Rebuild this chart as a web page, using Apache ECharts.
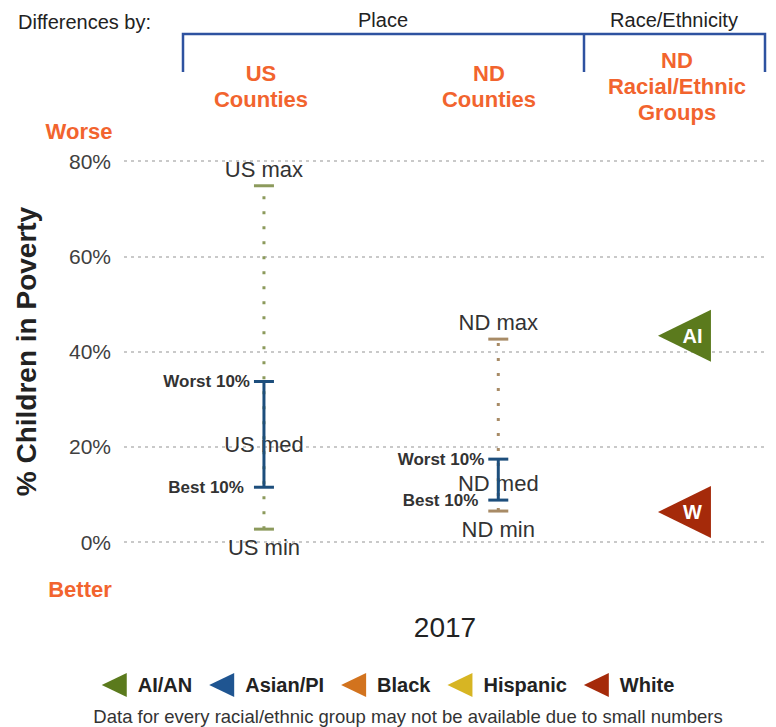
<!DOCTYPE html>
<html>
<head>
<meta charset="utf-8">
<script src="https://cdn.jsdelivr.net/npm/echarts@6/dist/echarts.min.js"></script>
<style>
  html, body { margin: 0; padding: 0; background: #fff; }
  #chart { width: 776px; height: 727px; }
</style>
</head>
<body>
<div id="chart"></div>
<script>
// ---------------- data ----------------
const places = ['US', 'ND'];
const placeMin = [2.7, 6.5];
const placeBest10 = [11.5, 8.8];
const placeMedian = [20.4, 12.3];
const placeWorst10 = [33.7, 17.4];
const placeMax = [74.8, 42.6];

const raceGroups = ['AI/AN', 'Asian/PI', 'Black', 'Hispanic', 'White'];
const raceCodes = ['AI', 'A', 'B', 'H', 'W'];
const raceValues = [43.3, null, null, null, 6.3];

const yTicks = [0, 20, 40, 60, 80];
const xAxisLabel = '2017';

// ---------------- layout / style ----------------
const FONT = "'Liberation Sans', Arial, sans-serif";
const ORANGE = '#f2642e';
const columnX = [21.8, 58.3];   // horizontal slot of each place column (hidden x scale 0..100)
const raceX = 87.3;
const rangeColors = ['#8c9a5c', '#a88b66'];
const barColor = '#1d4e7c';
const raceColors = ['#5b7a1d', '#1f5591', '#d2731e', '#d7b523', '#a52a0a'];
const triPath = 'path://M0,26 L53,0 L53,52 Z';

const series = [];
places.forEach((p, i) => {
  const x = columnX[i];
  // full range (dotted)
  series.push({
    type: 'line', silent: true, z: 2, symbol: 'none',
    lineStyle: { color: rangeColors[i], width: 3, type: [3, 12], cap: 'butt' },
    data: [[x, placeMin[i]], [x, placeMax[i]]]
  });
  // min / max caps
  series.push({
    type: 'scatter', silent: true, z: 3, symbol: 'rect', symbolSize: [20, 3],
    itemStyle: { color: rangeColors[i], opacity: 1 },
    label: { show: true, fontFamily: FONT, fontSize: 22, color: '#333' },
    data: [
      { value: [x, placeMax[i]], label: { position: 'top', distance: 4, formatter: p + ' max' } },
      { value: [x, placeMin[i]], label: { position: 'bottom', distance: 6, formatter: p + ' min' } }
    ]
  });
  // median label
  series.push({
    type: 'scatter', silent: true, z: 3, symbolSize: 1, itemStyle: { color: 'rgba(0,0,0,0)', opacity: 1 },
    label: { show: true, position: 'inside', fontFamily: FONT, fontSize: 22, color: '#333', formatter: p + ' med' },
    data: [[x, placeMedian[i]]]
  });
  // 10%-90% bar
  series.push({
    type: 'line', silent: true, z: 4, symbol: 'none',
    lineStyle: { color: barColor, width: 3 },
    data: [[x, placeBest10[i]], [x, placeWorst10[i]]]
  });
  series.push({
    type: 'scatter', silent: true, z: 5, symbol: 'rect', symbolSize: [20, 3],
    itemStyle: { color: barColor, opacity: 1 },
    label: { show: true, position: 'left', fontFamily: FONT, fontSize: 17, fontWeight: 'bold', color: '#333' },
    data: [
      { value: [x, placeWorst10[i]], label: { distance: 4, formatter: 'Worst 10%' } },
      { value: [x, placeBest10[i]], label: { distance: 10, formatter: 'Best 10%' } }
    ]
  });
});

raceGroups.forEach((g, j) => {
  series.push({
    name: g, type: 'scatter', z: 6, symbol: triPath, symbolSize: [53, 52],
    itemStyle: { color: raceColors[j], opacity: 1 },
    label: { show: true, position: 'inside', offset: [8, 0], formatter: raceCodes[j],
             color: '#fff', fontFamily: FONT, fontWeight: 'bold', fontSize: 20 },
    data: raceValues[j] == null ? [] : [[raceX, raceValues[j]]]
  });
});

const txt = (x, y, text, style) => ({
  type: 'text', x: x, y: y, silent: true,
  style: Object.assign({ text: text, fontFamily: FONT, fill: '#222', align: 'center', verticalAlign: 'middle' }, style)
});

const option = {
  animation: false,
  backgroundColor: '#fff',
  textStyle: { fontFamily: FONT },
  grid: { left: 124, right: 10, top: 161, bottom: 185 },
  xAxis: {
    type: 'value', min: 0, max: 100,
    axisLine: { show: false }, axisTick: { show: false }, axisLabel: { show: false }, splitLine: { show: false },
    name: xAxisLabel, nameLocation: 'middle', nameGap: 71,
    nameTextStyle: { fontSize: 28, color: '#222', fontFamily: FONT }
  },
  yAxis: {
    type: 'value', min: yTicks[0], max: yTicks[yTicks.length - 1], interval: yTicks[1] - yTicks[0],
    axisLine: { show: false }, axisTick: { show: false },
    axisLabel: { formatter: v => v + '%', fontSize: 21, color: '#404040', margin: 13, fontFamily: FONT },
    splitLine: { lineStyle: { color: '#c9c9c9', width: 2, type: [3, 4] } },
    name: '% Children in Poverty', nameLocation: 'middle', nameGap: 84,
    nameTextStyle: { fontSize: 28, fontWeight: 'bold', color: '#222', fontFamily: FONT }
  },
  legend: {
    data: raceGroups, left: 'center', top: 668, icon: 'path://M0,12 L25,0 L25,24 Z',
    itemWidth: 25, itemHeight: 24, itemGap: 17,
    itemStyle: { opacity: 1 },
    textStyle: { fontSize: 20, fontWeight: 'bold', color: '#222', fontFamily: FONT, padding: [0, 0, 0, 6] }
  },
  graphic: [
    txt(18, 22, 'Differences by:', { fontSize: 20, align: 'left' }),
    txt(383, 20, 'Place', { fontSize: 20 }),
    txt(674, 20, 'Race/Ethnicity', { fontSize: 20 }),
    { type: 'polyline', silent: true, shape: { points: [[183, 72], [183, 34], [765, 34], [765, 72]] },
      style: { stroke: '#2e52a0', lineWidth: 2.5, fill: null } },
    { type: 'line', silent: true, shape: { x1: 584, y1: 34, x2: 584, y2: 72 },
      style: { stroke: '#2e52a0', lineWidth: 2.5 } },
    txt(261, 60, 'US\nCounties', { fontSize: 22, fontWeight: 'bold', fill: ORANGE, verticalAlign: 'top', lineHeight: 26 }),
    txt(489, 60, 'ND\nCounties', { fontSize: 22, fontWeight: 'bold', fill: ORANGE, verticalAlign: 'top', lineHeight: 26 }),
    txt(677, 47, 'ND\nRacial/Ethnic\nGroups', { fontSize: 22, fontWeight: 'bold', fill: ORANGE, verticalAlign: 'top', lineHeight: 26 }),
    txt(79, 131, 'Worse', { fontSize: 22, fontWeight: 'bold', fill: ORANGE }),
    txt(80, 589, 'Better', { fontSize: 22, fontWeight: 'bold', fill: ORANGE }),
    txt(408, 716, 'Data for every racial/ethnic group may not be available due to small numbers', { fontSize: 18.5, fill: '#333' })
  ],
  series: series
};

const chart = echarts.init(document.getElementById('chart'), null, { renderer: 'svg' });
chart.setOption(option);
</script>
</body>
</html>
